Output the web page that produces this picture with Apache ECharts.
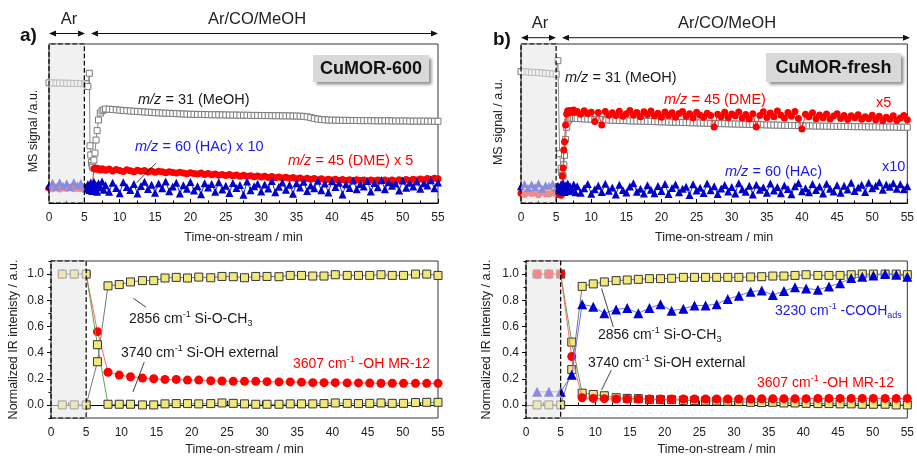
<!DOCTYPE html>
<html><head><meta charset="utf-8">
<script src="https://cdn.jsdelivr.net/npm/echarts@6/dist/echarts.min.js"></script>
<style>html,body{margin:0;padding:0;background:#fff}#c{width:917px;height:457px}</style>
</head><body><div id="c"></div>
<script>
// ---------- DATA ----------
const msTime = [0,0.5,1,1.5,2,2.5,3,3.5,4,4.5,5,
 5.25,5.5,5.7,5.8,5.9,6,6.1,6.2,6.35,6.5,6.65,6.8,7,7.25,7.5,7.75,
 8,8.5,9,9.5,10,10.5,11,11.5,12,12.5,
 13,13.5,14,14.5,15,15.5,16,16.5,17,17.5,
 18,18.5,19,19.5,20,20.5,21,21.5,22,22.5,
 23,23.5,24,24.5,25,25.5,26,26.5,27,27.5,
 28,28.5,29,29.5,30,30.5,31,31.5,32,32.5,
 33,33.5,34,34.5,35,35.5,36,36.5,37,37.5,
 38,38.5,39,39.5,40,40.5,41,41.5,42,42.5,
 43,43.5,44,44.5,45,45.5,46,46.5,47,47.5,
 48,48.5,49,49.5,50,50.5,51,51.5,52,52.5,
 53,53.5,54,54.5,55];

const meohA = [75.6,75.5,75.5,75.4,75.4,75.3,75.3,75.2,75.2,75.1,75.0,
 74.9,73.3,81.6,36.0,30.2,25.5,23.5,22.5,27.0,31.4,39.6,45.5,52.2,56.6,58.0,58.6,
 59.1,59.0,58.8,58.6,58.4,58.2,58.0,57.9,57.7,57.6,
 57.4,57.3,57.1,57.0,56.8,56.7,56.6,56.5,56.4,56.3,
 56.2,56.1,56.0,55.9,55.8,55.8,55.7,55.7,55.6,55.6,
 55.5,55.5,55.5,55.4,55.4,55.3,55.3,55.3,55.2,55.2,
 55.2,55.1,55.1,55.1,55.0,55.0,55.0,54.9,54.9,54.9,
 54.8,54.8,54.8,54.7,54.7,54.6,54.5,54.2,53.7,53.2,
 52.8,52.5,52.3,52.2,52.1,52.1,52.0,52.0,52.0,51.9,
 51.9,51.9,51.8,51.8,51.8,51.8,51.7,51.7,51.7,51.7,
 51.7,51.6,51.6,51.6,51.6,51.6,51.5,51.5,51.5,51.5,
 51.5,51.5,51.4,51.4,51.4];

const dmeA = [9.5,9.0,9.6,8.8,9.4,9.1,9.7,8.9,9.3,9.0,9.4,
 9.8,10.3,9.9,10.4,10.0,10.6,10.2,10.8,21.5,21.8,21.2,21.9,21.4,20.8,21.6,21.0,
 20.6,21.4,20.2,21.0,20.5,19.8,20.9,20.3,19.7,20.6,
 19.9,20.4,19.5,20.1,19.3,19.9,19.6,19.0,19.7,19.2,
 18.8,19.4,18.9,18.4,19.1,18.6,18.2,18.8,18.0,18.5,
 17.8,18.3,17.5,18.0,17.3,17.9,17.1,17.6,16.9,17.4,
 16.8,17.2,16.5,17.0,16.3,16.8,16.1,16.6,15.9,16.4,
 15.8,16.2,15.5,16.0,15.2,15.8,15.0,15.6,14.9,15.4,
 14.7,15.2,14.5,15.0,14.4,14.9,14.3,14.8,14.1,14.7,
 14.0,14.6,14.1,14.5,13.9,14.5,14.0,14.4,13.8,14.4,
 13.9,14.5,13.8,14.6,14.0,14.8,14.2,14.9,14.4,15.1,
 14.7,15.4,15.0,15.6,15.3];

const hacA = [11.0,12.8,10.2,13.0,10.9,12.5,10.0,13.1,11.2,12.6,10.5,
 9.0,11.8,8.2,10.5,12.9,9.6,7.5,11.0,13.3,9.0,10.8,7.0,12.5,9.8,13.5,8.4,
 11.2,7.0,12.8,9.5,6.2,13.1,10.0,8.1,12.0,5.9,
 10.7,13.4,8.8,11.5,6.5,12.2,9.2,13.6,7.4,10.3,
 12.7,6.0,11.1,9.0,13.2,7.8,10.5,5.5,12.4,9.8,
 11.9,7.1,13.0,8.5,10.9,6.3,12.6,9.4,11.3,5.2,
 13.5,8.0,10.6,12.1,7.3,11.7,9.1,13.8,6.8,10.2,
 12.9,8.3,11.4,5.8,12.5,9.7,13.3,7.6,11.0,9.3,
 14.0,8.0,12.3,6.6,13.7,10.1,12.8,5.4,11.8,9.5,
 14.2,8.7,12.0,10.4,13.9,7.2,12.6,9.9,14.4,8.6,
 13.0,10.8,12.2,7.9,14.1,9.6,12.7,10.3,13.5,8.9,
 12.4,11.0,14.3,9.2,12.9];

const meohB = [82.6,82.5,82.4,82.2,82.1,82.0,81.8,81.6,81.4,81.2,81.0,
 89.5,31.0,21.8,19.0,17.5,17.0,24.0,30.0,40.0,47.6,51.0,52.2,53.0,53.3,53.3,53.2,
 53.1,53.0,52.9,52.8,52.7,52.6,52.5,52.4,52.3,52.2,
 52.1,52.0,51.9,51.9,51.8,51.7,51.6,51.6,51.5,51.4,
 51.3,51.3,51.2,51.1,51.0,51.0,50.9,50.8,50.8,50.7,
 50.6,50.6,50.5,50.4,50.4,50.3,50.2,50.2,50.1,50.0,
 50.0,49.9,49.9,49.8,49.7,49.7,49.6,49.6,49.5,49.4,
 49.4,49.3,49.3,49.2,49.1,49.1,49.0,49.0,48.9,48.9,
 48.8,48.8,48.7,48.7,48.6,48.6,48.5,48.5,48.4,48.4,
 48.3,48.3,48.3,48.2,48.2,48.2,48.1,48.1,48.1,48.0,
 48.0,48.0,47.9,47.9,47.9,47.9,47.8,47.8,47.8,47.8,
 47.8,47.7,47.7,47.7,47.7];

const dmeB = [6.2,5.4,6.8,5.9,6.5,5.2,6.9,6.0,5.6,6.6,5.8,
 5.3,5.9,4.8,5.6,17.0,22.0,33.3,38.6,49.0,56.0,58.0,57.4,58.2,56.9,58.5,57.2,
 57.6,55.8,58.0,56.3,57.1,51.2,56.9,49.0,57.5,55.2,
 56.8,55.0,57.7,54.6,56.2,58.1,55.3,56.9,54.2,57.4,
 55.6,57.9,54.8,56.5,53.9,57.2,55.1,56.8,54.0,56.3,
 57.5,54.5,56.1,53.6,57.0,55.2,54.0,56.4,55.1,47.8,
 55.8,54.2,57.1,53.8,56.0,54.9,57.3,53.5,55.6,52.9,
 56.2,47.8,55.0,57.4,53.7,56.6,54.3,57.8,55.2,53.4,
 56.9,54.5,57.6,53.1,46.5,55.8,54.2,56.7,53.0,55.4,
 53.6,55.9,52.8,54.7,56.1,53.2,55.0,52.5,54.8,53.6,
 55.5,52.7,54.3,53.0,55.2,52.4,54.6,51.8,53.9,52.6,
 54.8,51.9,53.5,55.1,52.3];

const hacB = [10.5,12.0,9.4,11.6,10.1,12.3,9.0,11.2,10.8,12.1,9.6,
 10.9,8.1,11.8,7.3,10.2,12.5,8.8,6.9,11.0,9.5,12.2,7.6,10.4,8.3,11.7,6.8,
 10.6,6.4,9.2,11.9,5.8,8.7,10.9,6.9,12.1,7.7,
 9.8,5.3,11.4,8.2,6.6,10.3,12.4,7.1,9.0,5.9,
 11.1,8.4,6.2,10.7,7.5,12.0,5.6,9.4,11.6,6.8,
 8.9,10.2,5.1,11.8,7.9,9.6,6.3,12.2,8.0,10.5,
 5.7,9.1,11.3,7.2,10.0,6.0,12.5,8.6,7.0,10.8,
 5.4,11.5,8.3,9.9,6.5,12.3,7.8,10.1,6.1,11.0,
 8.8,5.5,10.6,12.6,7.4,9.3,6.7,11.9,8.1,10.4,
 5.9,12.1,9.0,7.3,11.2,6.4,10.9,8.5,12.8,7.6,
 9.7,11.4,6.9,12.7,9.2,10.8,13.0,8.4,11.6,10.2,
 12.4,9.0,11.8,8.7,10.6];

const irTime = [1.6,3.3,5.0,6.6,8.1,9.7,11.3,13.0,14.6,16.2,17.8,19.4,21.0,22.7,24.3,25.9,27.5,29.1,30.7,32.4,
 34.0,35.6,37.2,38.8,40.4,42.1,43.7,45.3,46.9,48.5,50.1,51.8,53.4,55.0];

const sioch3A = [0,0,0,0.33,0.91,0.92,0.94,0.95,0.95,0.97,0.975,0.97,0.977,0.972,0.982,0.98,0.972,0.982,0.982,0.98,
 0.99,0.99,0.985,0.985,0.995,0.99,0.99,0.99,0.995,0.99,0.99,1.0,1.0,0.99];
const siohA = [1,1,1,0.46,0.005,0.005,0.005,0,0,0.008,0.01,0.01,0.008,0.01,0.015,0.012,0.008,0.005,0.005,0.005,
 0.008,0.008,0.008,0.01,0.015,0.012,0.01,0.012,0.015,0.012,0.012,0.018,0.02,0.02];
const ohA = [1,1,1,0.56,0.25,0.228,0.215,0.205,0.2,0.195,0.195,0.19,0.19,0.185,0.183,0.18,0.18,0.18,0.178,0.176,
 0.176,0.174,0.17,0.17,0.17,0.168,0.168,0.167,0.166,0.166,0.165,0.165,0.165,0.165];

const sioch3B = [0,0,0,0.27,0.906,0.925,0.94,0.95,0.955,0.96,0.965,0.965,0.968,0.975,0.975,0.975,0.975,0.975,0.975,0.978,
 0.98,0.985,0.985,0.99,0.995,0.99,0.99,0.99,0.995,1.0,1.0,1.0,1.0,0.995];
const siohB = [1,1,1,0.48,0.09,0.08,0.07,0.055,0.05,0.048,0.04,0.04,0.04,0.035,0.033,0.03,0.03,0.028,0.025,0.02,
 0.018,0.02,0.015,0.015,0.012,0.01,0.01,0.008,0.008,0.005,0.005,0.005,0,0];
const ohB = [1,1,1,0.37,0.055,0.05,0.048,0.045,0.045,0.045,0.045,0.045,0.045,0.045,0.045,0.045,0.045,0.045,0.045,0.045,
 0.047,0.047,0.048,0.048,0.048,0.05,0.05,0.05,0.05,0.05,0.05,0.05,0.05,0.05];
const coohB = [0.1,0.1,0.1,0.23,0.77,0.75,0.70,0.73,0.74,0.70,0.74,0.77,0.72,0.735,0.76,0.76,0.77,0.81,0.835,0.865,
 0.875,0.84,0.87,0.9,0.89,0.88,0.905,0.93,0.97,0.98,0.99,1.0,0.995,0.98];

const irTicks = [0, 0.2, 0.4, 0.6, 0.8, 1.0];

// ---------- CHART ----------
const FONT = '"Liberation Sans", Arial, sans-serif';
const pairs = (xs, ys) => xs.map((x, i) => [x, ys[i]]);
const chart = echarts.init(document.getElementById('c'), null, {renderer: 'canvas'});

const grids = [
  {left: 49, top: 44, width: 389, height: 159},
  {left: 521, top: 44, width: 389, height: 159},
  {left: 51, top: 261, width: 387, height: 158},
  {left: 526, top: 261, width: 384, height: 158}
].map(g => Object.assign({show: true, borderColor: '#333', borderWidth: 1, backgroundColor: 'transparent'}, g));

function xAx(i, gap) {
  return {type: 'value', gridIndex: i, min: 0, max: 55, interval: 5,
    axisLine: {lineStyle: {color: '#000', width: 1}},
    axisTick: {inside: true, length: 4, lineStyle: {color: '#000'}},
    minorTick: {show: true, splitNumber: 2, length: 2.5, lineStyle: {color: '#000'}},
    axisLabel: {fontSize: 12, color: '#222', fontFamily: FONT, margin: 9},
    splitLine: {show: false},
    name: 'Time-on-stream / min', nameLocation: 'middle', nameGap: gap,
    nameTextStyle: {fontSize: 12.5, color: '#222', fontFamily: FONT}};
}
const xAxis = [xAx(0, 28), xAx(1, 28), xAx(2, 25), xAx(3, 25)];

function yMS(i) {
  return {type: 'value', gridIndex: i, min: 0, max: 100, axisLine: {show: true, lineStyle: {color: '#000'}},
    axisTick: {show: false}, axisLabel: {show: false}, splitLine: {show: false}};
}
function yIR(i, gap) {
  return {type: 'value', gridIndex: i, min: -0.1, max: 1.1, interval: 0.1,
    axisLine: {show: true, lineStyle: {color: '#000'}},
    axisTick: {show: true, length: 4, customValues: irTicks, lineStyle: {color: '#000'}},
    axisLabel: {show: true, customValues: irTicks, formatter: v => v.toFixed(1), fontSize: 12, color: '#222', fontFamily: FONT, margin: 7},
    splitLine: {show: false},
    name: 'Normalized IR intenisty / a.u.', nameLocation: 'middle', nameGap: gap,
    nameTextStyle: {fontSize: 12.5, color: '#222', fontFamily: FONT}};
}
function yMinor(i) {
  return {type: 'value', gridIndex: i, min: -0.1, max: 1.1, interval: 0.1, position: 'left',
    axisLine: {show: false}, axisTick: {show: true, length: 2.5, lineStyle: {color: '#000'}},
    axisLabel: {show: false}, splitLine: {show: false}};
}
const yAxis = [yMS(0), yMS(1), yIR(2, 31), yIR(3, 33), yMinor(2), yMinor(3)];

function line(gi, xs, ys, sym, size, fill, border, lineColor, z) {
  return {type: 'line', xAxisIndex: gi, yAxisIndex: gi, data: pairs(xs, ys), symbol: sym, symbolSize: size,
    showSymbol: true, showAllSymbol: true, silent: true, z: z || 2,
    itemStyle: {color: fill, borderColor: border, borderWidth: border ? 1 : 0, opacity: 1},
    lineStyle: {color: lineColor, width: 1}, emphasis: {disabled: true}};
}

function overlay(gi, ymin, ymax, arrows) {
  const s = {type: 'line', xAxisIndex: gi, yAxisIndex: gi, data: [], silent: true, z: 20,
    markArea: {silent: true, z: 10, label: {show: false},
      itemStyle: {color: 'rgba(232,232,232,0.6)', borderColor: '#000', borderWidth: 1.2, borderType: 'dashed'},
      data: [[{coord: [0, ymin]}, {coord: [5, ymax]}]]}};
  if (arrows) {
    s.markLine = {silent: true, z: 12, symbol: ['none', 'arrow'], symbolSize: [0, 7], animation: false,
      label: {show: false}, lineStyle: {color: '#111', width: 0.8, type: 'solid'},
      data: arrows.map(a => [{coord: [a[0], a[1]]}, {coord: [a[2], a[3]]}])};
  }
  return s;
}

const YEL = '#f2e87a', SQB = '#333';
const series = [
  line(0, msTime, meohA, 'rect', 6, '#fff', '#7a7a7a', '#8c8c8c'),
  line(0, msTime, dmeA, 'circle', 7, '#ff0000', null, '#ff2020', 3),
  line(0, msTime, hacA, 'triangle', 8, '#0000c8', null, '#2a2ad0', 4),
  line(1, msTime, meohB, 'rect', 6, '#fff', '#7a7a7a', '#8c8c8c'),
  line(1, msTime, dmeB, 'circle', 7, '#ff0000', null, '#ff3030', 3),
  line(1, msTime, hacB, 'triangle', 8, '#0000c8', null, '#2a2ad0', 4),
  line(2, irTime, ohA, 'circle', 9, '#ff0000', null, '#ff6a6a', 2),
  line(2, irTime, siohA, 'rect', 8, YEL, SQB, '#55aa55', 3),
  line(2, irTime, sioch3A, 'rect', 8, YEL, SQB, '#777', 3),
  line(3, irTime, siohB, 'rect', 8, YEL, SQB, '#55aa55', 2),
  line(3, irTime, sioch3B, 'rect', 8, YEL, SQB, '#777', 2),
  line(3, irTime, ohB, 'circle', 9, '#ff0000', null, '#ff6a6a', 3),
  line(3, irTime, coohB, 'triangle', 10, '#0000d0', null, '#7070ff', 4),
  overlay(0, 0, 100, [[15.1, 25, 12.4, 12.8]]),
  overlay(1, 0, 100),
  overlay(2, -0.1, 1.1, [[13.5, 0.747, 11.7, 0.815], [13.25, 0.327, 11.65, 0.099]]),
  overlay(3, -0.1, 1.1, [[12.6, 0.595, 10.9, 0.89], [12.3, 0.266, 10.9, 0.114]])
];

// ---------- DECORATION (text, header arrows, boxes) ----------
function txt(x, y, text, size, color, extra) {
  return {type: 'text', x: x, y: y, silent: true, z: 100,
    style: Object.assign({text: text, fill: color || '#111', fontSize: size, fontFamily: FONT,
      align: 'left', verticalAlign: 'middle', textAlign: 'left', textVerticalAlign: 'middle'}, extra || {})};
}
function richTxt(x, y, text, size, color) {
  return txt(x, y, text, size, color, {rich: {
    n: {fontSize: size, fontFamily: FONT, fill: color, lineHeight: 18},
    i: {fontSize: size, fontFamily: FONT, fill: color, fontStyle: 'italic', lineHeight: 18},
    sup: {fontSize: 9, fontFamily: FONT, fill: color, verticalAlign: 'top'},
    sub: {fontSize: 9, fontFamily: FONT, fill: color, verticalAlign: 'bottom'}
  }});
}
function hArrow(x1, x2, y) {
  return [
    {type: 'line', silent: true, z: 100, shape: {x1: x1 + 3, y1: y, x2: x2 - 3, y2: y}, style: {stroke: '#111', lineWidth: 1}},
    {type: 'polygon', silent: true, z: 100, shape: {points: [[x1, y], [x1 + 7, y - 3], [x1 + 7, y + 3]]}, style: {fill: '#111'}},
    {type: 'polygon', silent: true, z: 100, shape: {points: [[x2, y], [x2 - 7, y - 3], [x2 - 7, y + 3]]}, style: {fill: '#111'}}
  ];
}
function box(x, y, w, h, label) {
  return [
    {type: 'rect', silent: true, z: 100, shape: {x: x, y: y, width: w, height: h},
      style: {fill: '#d9d9d9', shadowBlur: 3, shadowOffsetX: 2.5, shadowOffsetY: 2.5, shadowColor: 'rgba(0,0,0,0.45)'}},
    txt(x + w / 2, y + h / 2 + 0.5, label, 18, '#111', {fontWeight: 'bold', align: 'center', textAlign: 'center'})
  ];
}
function vName(x, y, text) {
  return {type: 'text', x: x, y: y, rotation: Math.PI / 2, silent: true, z: 100,
    style: {text: text, fill: '#222', fontSize: 12.5, fontFamily: FONT, align: 'center', verticalAlign: 'middle',
      textAlign: 'center', textVerticalAlign: 'middle'}};
}
const RED = '#ff0000', BLUE = '#1a1aee', DARK = '#1a1a1a';
const graphic = [].concat(
  txt(20, 36, 'a)', 19, '#111', {fontWeight: 'bold'}),
  txt(493, 40, 'b)', 19, '#111', {fontWeight: 'bold'}),
  txt(69, 19, 'Ar', 16.5, '#222', {align: 'center', textAlign: 'center'}),
  txt(257, 19, 'Ar/CO/MeOH', 16.5, '#222', {align: 'center', textAlign: 'center'}),
  txt(540, 23, 'Ar', 16.5, '#222', {align: 'center', textAlign: 'center'}),
  txt(727, 23, 'Ar/CO/MeOH', 16.5, '#222', {align: 'center', textAlign: 'center'}),
  hArrow(49, 85, 33.5), hArrow(91, 438, 33.5),
  hArrow(521, 556, 37.7), hArrow(562, 910, 37.7),
  box(313, 55, 116, 27, 'CuMOR-600'),
  box(766, 53, 135, 29, 'CuMOR-fresh'),
  vName(34, 131, 'MS signal /a.u.'),
  vName(499, 122, 'MS signal / a.u.'),
  richTxt(138, 100, '{i|m/z}{n| = 31 (MeOH)}', 14.5, DARK),
  richTxt(135, 147, '{i|m/z}{n| = 60 (HAc) x 10}', 14.5, BLUE),
  richTxt(288, 161, '{i|m/z}{n| = 45 (DME) x 5}', 14.5, RED),
  richTxt(565, 78, '{i|m/z}{n| = 31 (MeOH)}', 14.5, DARK),
  richTxt(664, 100, '{i|m/z}{n| = 45 (DME)}', 14.5, RED),
  txt(876, 103, 'x5', 14.5, RED),
  richTxt(725, 172, '{i|m/z}{n| = 60 (HAc)}', 14.5, BLUE),
  txt(882, 167, 'x10', 14.5, BLUE),
  richTxt(129, 319, '{n|2856 cm}{sup|-1}{n| Si-O-CH}{sub|3}', 14, DARK),
  richTxt(121, 353, '{n|3740 cm}{sup|-1}{n| Si-OH external}', 14, DARK),
  richTxt(293, 364, '{n|3607 cm}{sup|-1}{n| -OH MR-12}', 14, RED),
  richTxt(775, 311, '{n|3230 cm}{sup|-1}{n| -COOH}{sub|ads}', 14, BLUE),
  richTxt(598, 335, '{n|2856 cm}{sup|-1}{n| Si-O-CH}{sub|3}', 14, DARK),
  richTxt(588, 363, '{n|3740 cm}{sup|-1}{n| Si-OH external}', 14, DARK),
  richTxt(757, 383, '{n|3607 cm}{sup|-1}{n| -OH MR-12}', 14, RED)
);

chart.setOption({
  animation: false,
  backgroundColor: '#fff',
  grid: grids,
  xAxis: xAxis,
  yAxis: yAxis,
  series: series,
  graphic: graphic
});
</script>
</body></html>
